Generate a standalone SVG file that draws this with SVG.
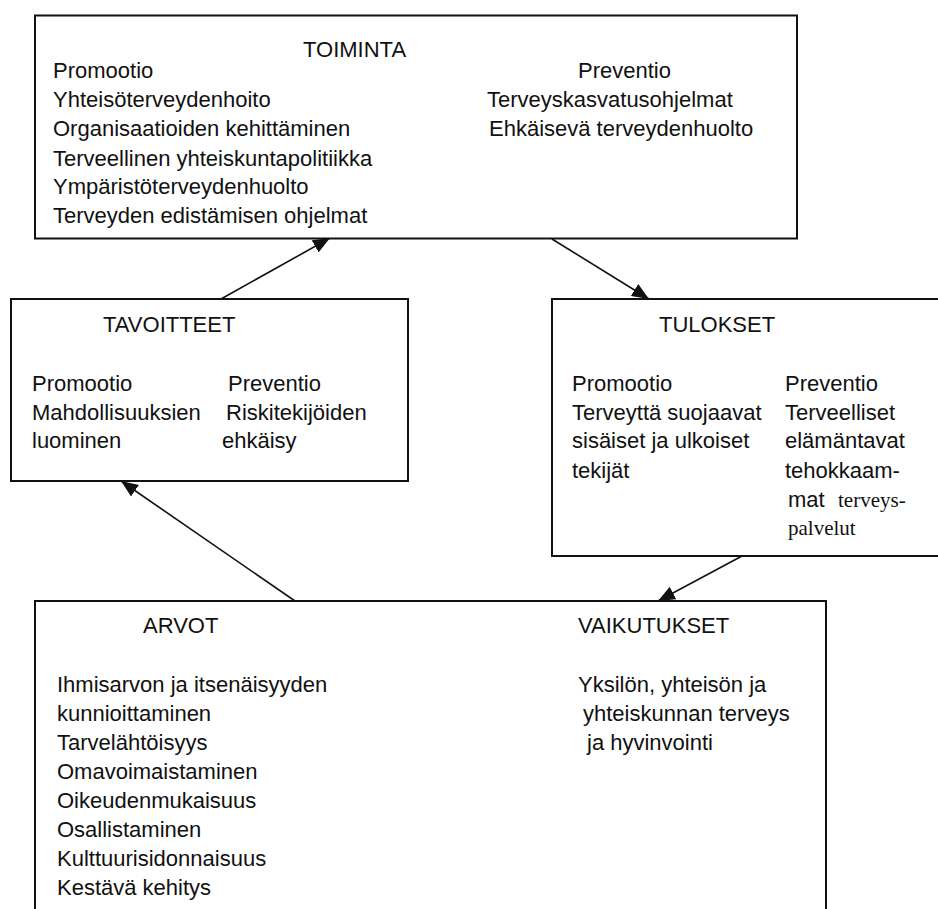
<svg xmlns="http://www.w3.org/2000/svg" width="938" height="909" viewBox="0 0 938 909">
  <style>
    .box { fill: #ffffff; stroke: #111111; stroke-width: 2; }
    .t { font-family: "Liberation Sans", Arial, sans-serif; font-size: 22px; fill: #111111; }
    .s { font-family: "Liberation Serif", "Times New Roman", serif; font-size: 21px; fill: #111111; }
    .c { stroke: #111111; stroke-width: 1.6; fill: none; marker-end: url(#ah); }
  </style>
  <defs>
    <marker id="ah" markerUnits="userSpaceOnUse" markerWidth="17" markerHeight="14" refX="17" refY="7" orient="auto">
      <path d="M0,0 L17,7 L0,14 z" fill="#111111"/>
    </marker>
  </defs>
  <rect x="0" y="0" width="938" height="909" fill="#ffffff"/>

  <g id="connectors">
    <line class="c" x1="221" y1="299" x2="330" y2="238"/>
    <line class="c" x1="552" y1="239" x2="649" y2="299"/>
    <line class="c" x1="742" y1="556" x2="658" y2="601"/>
    <line class="c" x1="295" y1="601" x2="121" y2="481"/>
  </g>

  <g id="toiminta">
    <rect class="box" x="35" y="15.5" width="762" height="223"/>
    <text class="t" x="303" y="57">TOIMINTA</text>
    <text class="t" x="53" y="78">Promootio</text>
    <text class="t" x="53" y="107">Yhteisöterveydenhoito</text>
    <text class="t" x="53" y="136">Organisaatioiden kehittäminen</text>
    <text class="t" x="53" y="166">Terveellinen yhteiskuntapolitiikka</text>
    <text class="t" x="53" y="194">Ympäristöterveydenhuolto</text>
    <text class="t" x="53" y="223">Terveyden edistämisen ohjelmat</text>
    <text class="t" x="578" y="78">Preventio</text>
    <text class="t" x="487" y="107">Terveyskasvatusohjelmat</text>
    <text class="t" x="489" y="136">Ehkäisevä terveydenhuolto</text>
  </g>

  <g id="tavoitteet">
    <rect class="box" x="11" y="299" width="397" height="182"/>
    <text class="t" x="103" y="332">TAVOITTEET</text>
    <text class="t" x="32" y="391">Promootio</text>
    <text class="t" x="228" y="391">Preventio</text>
    <text class="t" x="32" y="420">Mahdollisuuksien</text>
    <text class="t" x="226" y="420">Riskitekijöiden</text>
    <text class="t" x="32" y="448">luominen</text>
    <text class="t" x="222" y="448">ehkäisy</text>
  </g>

  <g id="tulokset">
    <rect class="box" x="552" y="299" width="400" height="257"/>
    <text class="t" x="659" y="332">TULOKSET</text>
    <text class="t" x="572" y="391">Promootio</text>
    <text class="t" x="572" y="420">Terveyttä suojaavat</text>
    <text class="t" x="572" y="448">sisäiset ja ulkoiset</text>
    <text class="t" x="572" y="478">tekijät</text>
    <text class="t" x="785" y="391">Preventio</text>
    <text class="t" x="785" y="420">Terveelliset</text>
    <text class="t" x="785" y="448">elämäntavat</text>
    <text class="t" x="785" y="478">tehokkaam-</text>
    <text class="t" x="788" y="507">mat</text>
    <text class="s" x="838" y="507">terveys-</text>
    <text class="s" x="788" y="535">palvelut</text>
  </g>

  <g id="arvot-vaikutukset">
    <rect class="box" x="35" y="601" width="791" height="330"/>
    <text class="t" x="143" y="633">ARVOT</text>
    <text class="t" x="57" y="692">Ihmisarvon ja itsenäisyyden</text>
    <text class="t" x="57" y="721">kunnioittaminen</text>
    <text class="t" x="57" y="750">Tarvelähtöisyys</text>
    <text class="t" x="57" y="779">Omavoimaistaminen</text>
    <text class="t" x="57" y="808">Oikeudenmukaisuus</text>
    <text class="t" x="57" y="837">Osallistaminen</text>
    <text class="t" x="57" y="866">Kulttuurisidonnaisuus</text>
    <text class="t" x="57" y="895">Kestävä kehitys</text>
    <text class="t" x="578" y="633">VAIKUTUKSET</text>
    <text class="t" x="578" y="692">Yksilön, yhteisön ja</text>
    <text class="t" x="583" y="721">yhteiskunnan terveys</text>
    <text class="t" x="587" y="750">ja hyvinvointi</text>
  </g>
</svg>
